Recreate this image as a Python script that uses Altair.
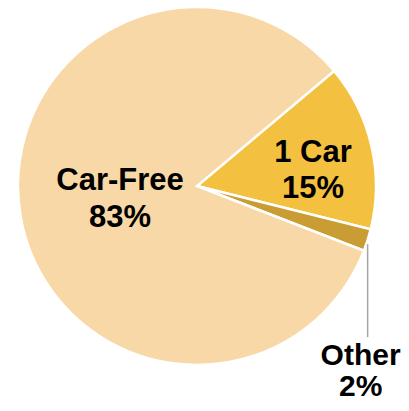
import math
import altair as alt
import pandas as pd

# ---- data ----
categories = ["1 Car", "Other", "Car-Free"]
values = [15, 2, 83]
pct_labels = ["15%", "2%", "83%"]
slice_order = [0, 1, 2]
colors = ["#F4C040", "#C99D34", "#F8D8A6"]

df = pd.DataFrame({"cat": categories, "val": values, "pct": pct_labels, "order": slice_order})
df["label"] = df["cat"] + "\n" + df["pct"]

START = 50 * math.pi / 180
CX, CY, R = 189, 178, 179
FONT = "Liberation Sans"

theta_scale = alt.Scale(domain=[0, 100], range=[START, START + 2 * math.pi])

pie = alt.Chart(df).mark_arc(outerRadius=R, stroke="white", strokeWidth=2.5).encode(
    theta=alt.Theta("val:Q", stack=True, scale=theta_scale),
    order=alt.Order("order:Q"),
    color=alt.Color("cat:N", scale=alt.Scale(domain=categories, range=colors), legend=None),
    x=alt.value(CX),
    y=alt.value(CY),
)

mid = alt.Chart(df).transform_window(
    cum="sum(val)", sort=[alt.SortField("order")], frame=[None, 0]
).transform_calculate(mid="datum.cum - datum.val / 2")


def label(cat, radius, dx, dy, line_height, size=31):
    return mid.transform_filter(f"datum.cat == '{cat}'").mark_text(
        font=FONT, fontSize=size, fontWeight="bold", lineBreak="\n",
        lineHeight=line_height, color="black", radius=radius, dx=dx, dy=dy,
        align="center", baseline="middle",
    ).encode(
        theta=alt.Theta("mid:Q", stack=False, scale=theta_scale),
        text="label:N",
        x=alt.value(CX),
        y=alt.value(CY),
    )


lab_car = label("1 Car", 119, 0, -6, 36)
lab_free = label("Car-Free", 78, 0, -18, 37)
lab_other = label("Other", R, -7, 116, 31, 30)

leader = mid.transform_filter("datum.cat == 'Other'").transform_calculate(
    ang=f"{START} + datum.mid / 100 * 2 * PI",
    lx=f"{CX} + {R} * sin(datum.ang)",
    ly=f"{CY} - {R} * cos(datum.ang) + 4",
    ly2=f"{CY} - {R} * cos(datum.ang) + 97",
).mark_rule(color="#A6A6A6", strokeWidth=1.5).encode(
    x=alt.X("lx:Q", scale=None),
    y=alt.Y("ly:Q", scale=None),
    y2="ly2:Q",
)

chart = alt.layer(pie, leader, lab_car, lab_free, lab_other).properties(
    width=393, height=395, padding=0,
    autosize=alt.AutoSizeParams(type="none"),
).configure_view(stroke=None)

chart.save("out.html", embed_options={"renderer": "svg", "actions": False})
